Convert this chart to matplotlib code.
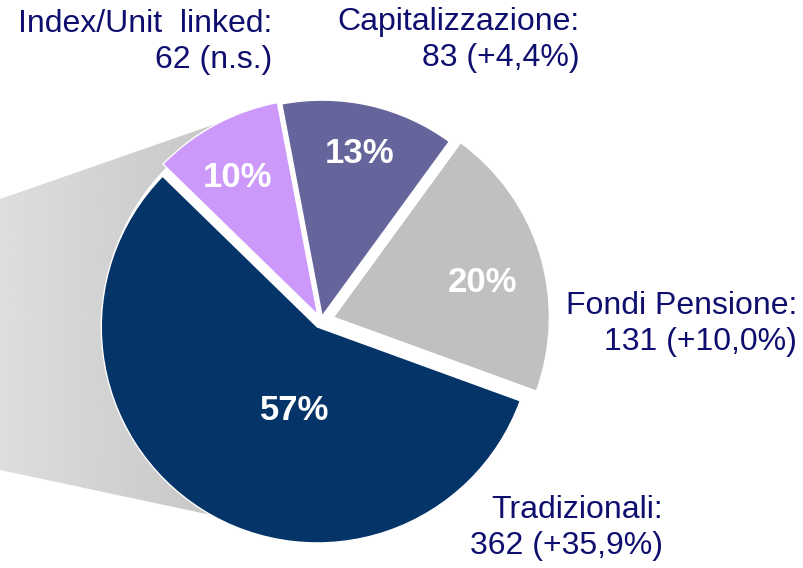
import numpy as np
import matplotlib
matplotlib.use('Agg')
import matplotlib.pyplot as plt
from matplotlib.patches import Polygon, Circle

plt.rcParams['font.family'] = ['Liberation Sans', 'DejaVu Sans']

# data
categories = ['Fondi Pensione', 'Capitalizzazione', 'Index/Unit linked', 'Tradizionali']
values = [131, 83, 62, 362]
pct_labels = ['20%', '13%', '10%', '57%']
labels = ['Fondi Pensione:\n131 (+10,0%)', 'Capitalizzazione:\n83 (+4,4%)',
          'Index/Unit  linked:\n62 (n.s.)', 'Tradizionali:\n362 (+35,9%)']
colors = ['#C0C0C0', '#66659B', '#CC99FA', '#053468']

W, H = 804, 568
fig = plt.figure(figsize=(W / 100, H / 100), dpi=100)
ax = fig.add_axes([0, 0, 1, 1])

cx, cy = 321, H - 321
R = 216

# grey "connector" shadow on the left, with a horizontal gradient
shadow = Polygon([(0, H - 199), (250, H - 112), (305, H - 535), (0, H - 470)],
                 closed=True, facecolor='none', edgecolor='none')
ax.add_patch(shadow)
grad = np.linspace(0.87, 0.74, 256).reshape(1, -1)
im = ax.imshow(grad, cmap='gray', vmin=0, vmax=1, extent=(0, 305, H - 535, H - 101),
               aspect='auto', zorder=1)
im.set_clip_path(shadow)

ax.add_patch(Circle((cx, cy), R + 2, facecolor='white', edgecolor='none', zorder=2))

# explode is in data units (pixels here)
wedges, _ = ax.pie(values, colors=colors, startangle=-20, counterclock=True,
                   center=(cx, cy), radius=R, explode=[13, 5, 7, 7],
                   wedgeprops=dict(edgecolor='white', linewidth=1.0), frame=True)
for w in wedges:
    w.set_zorder(3)
ax.set_xlim(0, W)
ax.set_ylim(0, H)
ax.set_aspect('equal')
ax.axis('off')

# percentage labels inside slices
pct_pos = [(483, 283), (360, 154), (238, 178), (295, 410)]
for txt, (x, y) in zip(pct_labels, pct_pos):
    ax.text(x, H - y, txt, color='white', fontsize=25, fontweight='bold',
            ha='center', va='center', zorder=5)

# outside labels
lab_pos = [(797, 291), (580, 7), (272, 9), (663, 495)]
for txt, (x, y) in zip(labels, lab_pos):
    ax.text(x, H - y, txt, color='#0E0E6E', fontsize=23, ha='right', va='top',
            linespacing=1.25, zorder=5)

fig.savefig('out.png', dpi=100)
